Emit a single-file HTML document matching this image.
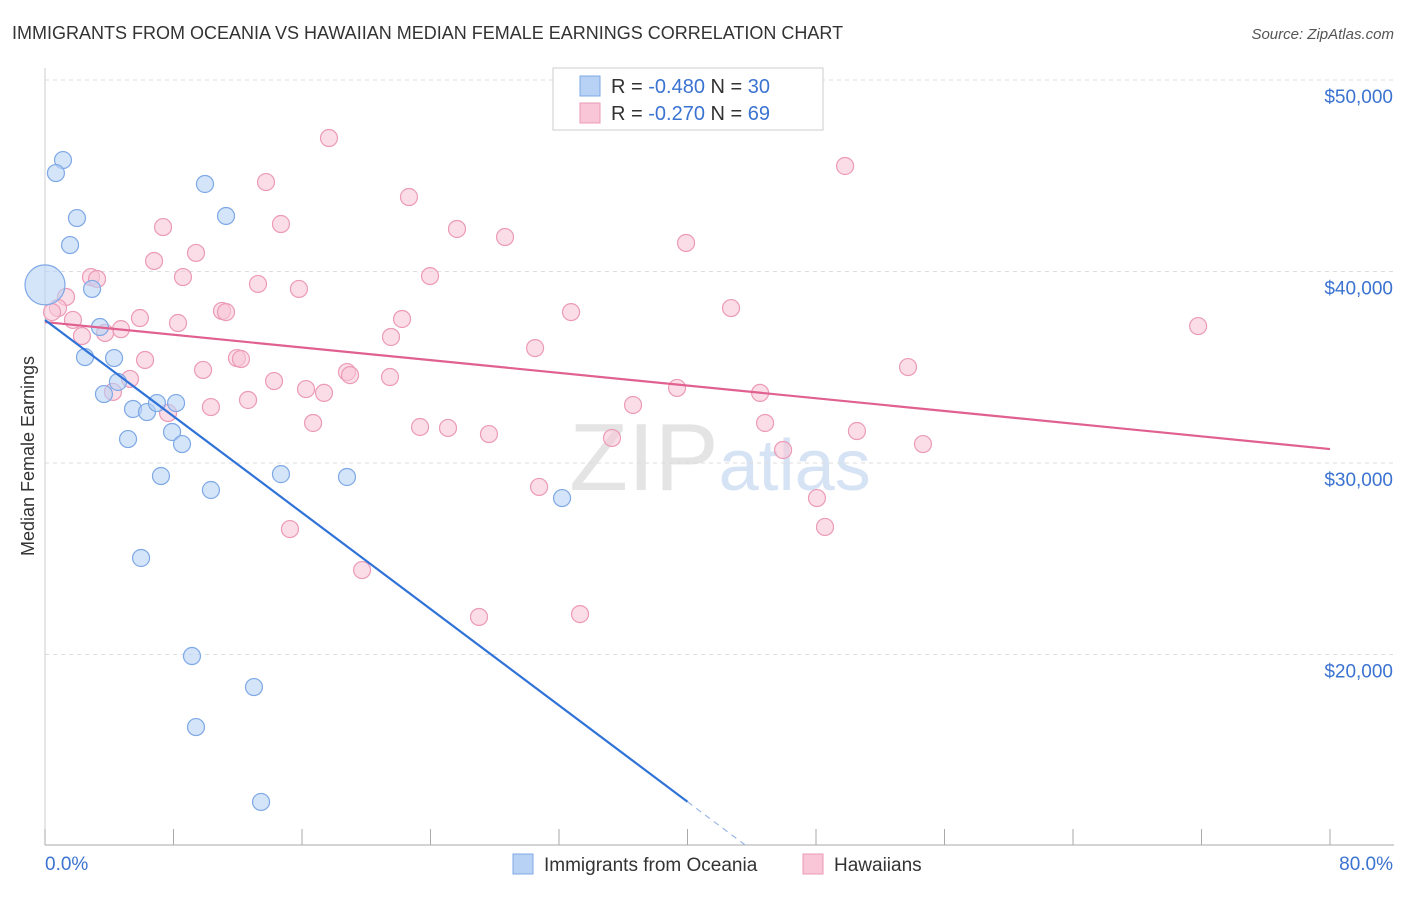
<!DOCTYPE html>
<html><head><meta charset="utf-8"><style>
body{margin:0;background:#fff;font-family:"Liberation Sans",sans-serif;}
svg text{font-family:"Liberation Sans",sans-serif;}
</style></head><body>
<svg id="chart" width="1406" height="892" xmlns="http://www.w3.org/2000/svg">
<text x="12" y="39" font-size="18" fill="#333">IMMIGRANTS FROM OCEANIA VS HAWAIIAN MEDIAN FEMALE EARNINGS CORRELATION CHART</text>
<text x="1394" y="39" font-size="15" fill="#555" text-anchor="end" font-style="italic">Source: ZipAtlas.com</text>
<text x="720" y="490" font-size="96" fill="#e4e4e4" text-anchor="middle" font-family="Liberation Serif">ZIP<tspan fill="#d6e3f5" font-family="Liberation Sans" font-size="72">atlas</tspan></text>
<g id="grid"></g>
<g id="axes"></g>
<g id="marks"></g>
<text transform="translate(34,456) rotate(-90)" font-size="18" fill="#333" text-anchor="middle">Median Female Earnings</text>
<g>
<rect x="553" y="68" width="270" height="62" fill="#fff" stroke="#ccc"/>
<rect x="580" y="76" width="20" height="20" fill="#b7d2f5" stroke="#7ea8e6"/>
<rect x="580" y="103" width="20" height="20" fill="#f9c6d7" stroke="#ec9ab6"/>
<text x="611" y="93" font-size="20" fill="#333">R = <tspan fill="#3b73d1">-0.480</tspan>   N = <tspan fill="#3b73d1">30</tspan></text>
<text x="611" y="120" font-size="20" fill="#333">R = <tspan fill="#3b73d1">-0.270</tspan>   N = <tspan fill="#3b73d1">69</tspan></text>
</g>
<g>
<rect x="513" y="854" width="20" height="20" fill="#b7d2f5" stroke="#7ea8e6"/>
<text x="544" y="871" font-size="19" fill="#333">Immigrants from Oceania</text>
<rect x="803" y="854" width="20" height="20" fill="#f9c6d7" stroke="#ec9ab6"/>
<text x="834" y="871" font-size="19" fill="#333">Hawaiians</text>
</g>
</svg>
<script>
const xTicks=[0,8,16,24,32,40,48,56,64,72,80];
const yTicks=[20000,30000,40000,50000];
const yTickLabels=["$20,000","$30,000","$40,000","$50,000"];
const blueX=[1.12,0.68,1.99,1.56,2.93,3.42,2.49,4.30,4.54,3.67,5.48,6.35,6.97,8.16,7.91,8.53,5.17,7.22,5.98,9.96,11.27,10.33,9.15,9.40,13.01,13.45,14.69,18.80,32.19,0];
const blueY=[45.82,45.14,42.79,41.38,39.09,37.10,35.53,35.48,34.23,33.60,32.82,32.66,33.13,33.13,31.62,30.99,31.25,29.32,25.04,44.57,42.90,28.59,19.92,16.21,18.30,12.30,29.42,29.27,28.17,39.3];
const pinkX=[17.68,49.81,13.76,22.66,14.69,7.35,25.65,28.64,39.91,9.40,6.79,8.59,2.86,3.24,23.97,13.26,15.81,1.31,0.81,11.02,11.27,32.75,42.71,71.79,0.44,1.74,5.91,8.28,22.23,4.73,3.74,2.30,21.54,30.51,11.95,12.20,6.23,53.73,9.84,18.80,18.99,21.48,14.26,5.29,4.23,16.25,17.37,39.35,44.52,12.64,10.33,36.61,7.66,16.69,23.35,25.09,27.64,44.83,50.55,35.30,54.66,45.95,30.76,48.06,48.56,15.25,19.74,27.02,33.31];
const pinkY=[46.97,45.51,44.67,43.89,42.48,42.32,42.22,41.80,41.49,40.97,40.55,39.71,39.71,39.61,39.76,39.35,39.09,38.67,38.09,37.94,37.88,37.88,38.09,37.15,37.88,37.47,37.57,37.31,37.52,36.99,36.79,36.63,36.58,36.00,35.48,35.43,35.38,35.01,34.86,34.75,34.59,34.49,34.28,34.39,33.71,33.86,33.66,33.92,33.66,33.29,32.92,33.03,32.61,32.09,31.88,31.83,31.51,32.09,31.67,31.31,30.99,30.68,28.75,28.17,26.66,26.55,24.41,21.96,22.11];
const blueTrend=[37.47,-0.629]; // intercept ($k), slope per %
const pinkTrend=[37.36,-0.0829];
const NS="http://www.w3.org/2000/svg";
const X=v=>45+v/80*1285;
const Y=k=>80+(50-k)*19.15;
function mk(tag,attrs,parent){const e=document.createElementNS(NS,tag);for(const k in attrs)e.setAttribute(k,attrs[k]);parent.appendChild(e);return e;}
const grid=document.getElementById('grid'),axes=document.getElementById('axes'),marks=document.getElementById('marks');
yTicks.forEach((t,i)=>{
 const l=mk('line',{x1:45,x2:1394,y1:Y(t/1000),y2:Y(t/1000),stroke:'#ddd','stroke-dasharray':'4,4'},grid);
 
 
 const tx=mk('text',{x:1393,y:Y(t/1000)+23,'font-size':19,fill:'#3b73d1','text-anchor':'end'},axes);
 tx.textContent=yTickLabels[i];
 
 
});
const ax=mk('line',{x1:45,x2:1394,y1:845,y2:845,stroke:'#aaa'},axes);


const ay=mk('line',{x1:45,x2:45,y1:68,y2:845,stroke:'#ccc'},axes);


xTicks.forEach(t=>{
 const l=mk('line',{x1:X(t),x2:X(t),y1:829,y2:845,stroke:'#aaa'},axes);
 
 
});
[[0,"0.0%","start",45],[80,"80.0%","end",1393]].forEach(a=>{
 const tx=mk('text',{x:a[3],y:870,'font-size':19,fill:'#3b73d1','text-anchor':a[2]},axes);
 tx.textContent=a[1];
 
 
});
pinkX.forEach((v,i)=>{
 const c=mk('circle',{cx:X(v),cy:Y(pinkY[i]),r:8.5,fill:'#f9c6d7','fill-opacity':0.6,stroke:'#ec9ab6','stroke-width':1.2},marks);
 
 
});
blueX.forEach((v,i)=>{
 const big=(i===blueX.length-1);
 const c=mk('circle',{cx:X(v),cy:Y(blueY[i]),r:big?20:8.5,fill:'#b7d2f5','fill-opacity':0.6,stroke:'#7ea8e6','stroke-width':1.2},marks);
 
 
});
const pl=mk('line',{x1:X(0),y1:Y(pinkTrend[0]),x2:X(80),y2:Y(pinkTrend[0]+pinkTrend[1]*80),stroke:'#e0608f','stroke-width':2.2},marks);


const bl=mk('line',{x1:X(0),y1:Y(blueTrend[0]),x2:X(40),y2:Y(blueTrend[0]+blueTrend[1]*40),stroke:'#2f72d8','stroke-width':2.2},marks);


const xEnd=(blueTrend[0]-10.05)/(-blueTrend[1]);
const bd=mk('line',{x1:X(40),y1:Y(blueTrend[0]+blueTrend[1]*40),x2:X(xEnd),y2:Y(10.05),stroke:'#9bb8e6','stroke-width':1.2,'stroke-dasharray':'6,5'},marks);


</script>
</body></html>
